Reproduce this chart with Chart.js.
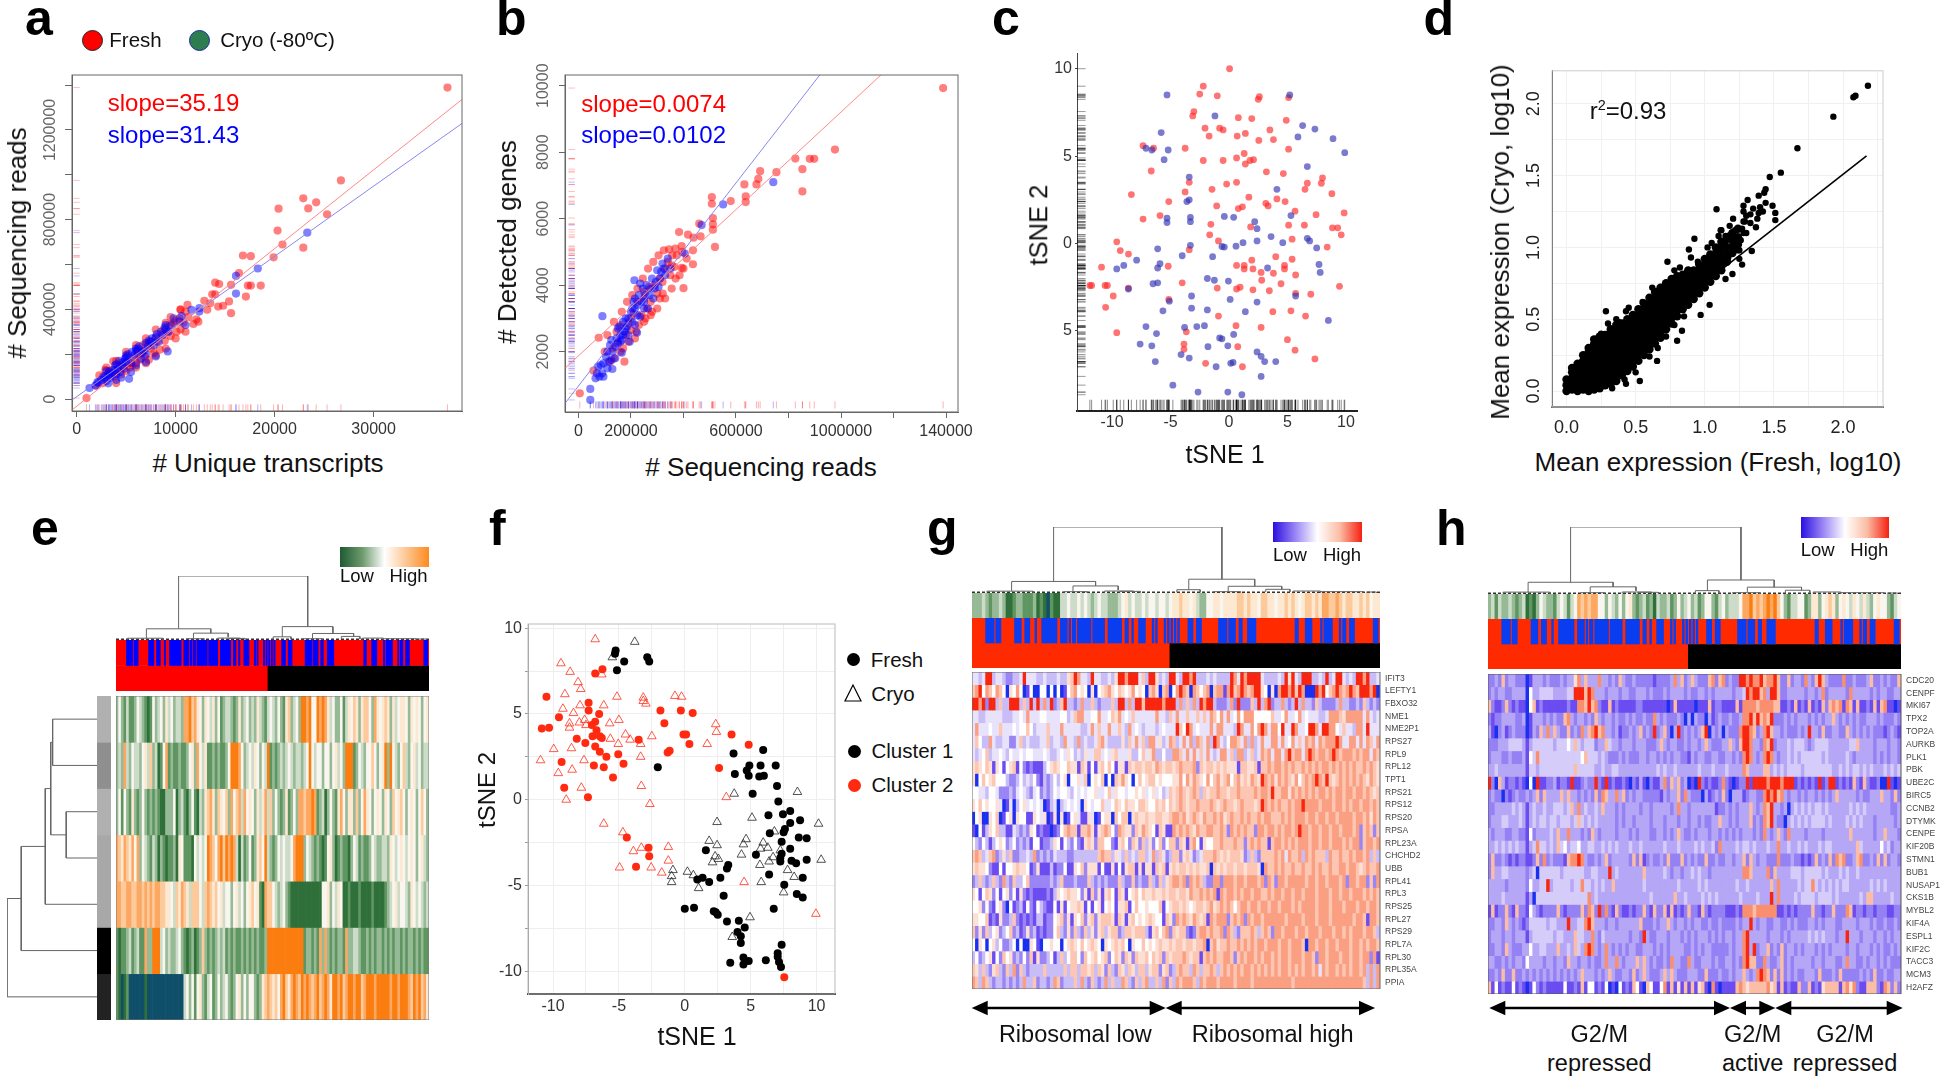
<!DOCTYPE html>
<html><head><meta charset="utf-8">
<script src="https://cdn.jsdelivr.net/npm/chart.js@4"></script>
<style>
html,body{margin:0;padding:0;background:#fff;width:1945px;height:1076px;overflow:hidden;position:relative;font-family:"Liberation Sans",Arial,sans-serif}
canvas{position:absolute;display:block}
.t{position:absolute;white-space:nowrap;line-height:1;color:#111}
.lg{position:absolute}
sup{font-size:60%;line-height:0}
</style></head><body>
<svg id="ov" width="1945" height="1076" style="position:absolute;left:0;top:0;pointer-events:none;z-index:3"></svg>
<script>
/* ---------- panel a ---------- */
const aXTicks=[0,10000,20000,30000], aYTicks=[0,200000,400000,600000,800000,1000000,1200000,1400000];
const aFreshX=[37460,26700,22900,24200,23400,20400,25300,20300,20800,22900,16800,17600,19900,16400,14000,14400,15600,17300,17600,18600,17100,13700,14000,12900,15400,13500,14300,14800,15600,11200,10500,13200,
2000,2600,3000,3300,3600,3800,4100,4200,4500,4700,5000,5200,5400,5600,5800,6000,6200,6400,6600,6900,7100,7300,7500,7800,8100,8400,8600,8900,9200,9500,9800,10100,10400,10500,10800,11000,11300,11800,12100,12300,2300,1000,3700,2900,4000,4400,5100,6100,6700,7400,8000,8800,9400,10000,
6000,7000,8000,9000,10000,11000,3000,4000,5000,6000,7000,8000,9000,9500,10500];
const aFreshY=[1389000,975000,895000,877000,850000,849000,824000,751000,689000,675000,640000,637000,632000,561000,519000,513000,509000,506000,506000,506000,457000,467000,467000,438000,435000,427000,412000,416000,383000,420000,398000,398000,
60000,70000,105000,120000,130000,100000,125000,150000,110000,145000,125000,165000,140000,150000,185000,160000,200000,175000,215000,190000,245000,175000,225000,205000,255000,220000,290000,260000,300000,280000,340000,300000,360000,310000,340000,390000,365000,335000,355000,345000,105000,4000,168000,130000,71000,160000,190000,215000,240000,255000,275000,310000,330000,350000,
140000,160000,195000,225000,270000,300000,140000,170000,210000,240000,270000,310000,340000,365000,400000];
const aCryoX=[23300,18300,16100,16100,11600,12400,1300,1900,2200,2500,2800,3000,3200,3400,3600,3800,4000,4200,4400,4600,4800,5000,5000,5300,5500,5800,6000,6300,6500,6800,7000,7200,7500,7600,7800,8100,8300,8700,9000,9300,9200,9600,10400,10600,11000,12400,2100,2700,3300,3500,3900,4300,4700,4900,5200,5600,6200,6600,7300,8500,8900,
3200,4000,4500,5500,6000,7000,8000,3000,4000,5000,6000,7000,8000,9000,9800];
const aCryoY=[742000,582000,549000,470000,398000,405000,49000,60000,72000,85000,95000,80000,110000,95000,115000,130000,110000,135000,120000,150000,135000,165000,185000,90000,160000,195000,215000,235000,180000,215000,200000,235000,255000,270000,240000,290000,255000,285000,310000,300000,212000,330000,345000,370000,330000,390000,75000,100000,125000,105000,150000,170000,165000,180000,200000,210000,225000,205000,260000,300000,320000,
70000,85000,95000,120000,150000,165000,190000,125000,155000,195000,225000,250000,275000,330000,360000];
const aFitFreshX=[-465,38930],aFitFreshY=[-49000,1336000];
const aFitCryoX=[-465,38930],aFitCryoY=[-4460,1229000];
/* ---------- panel b ---------- */
const bXTicks=[0,200000,400000,600000,800000,1000000,1200000,1400000], bYTicks=[2000,4000,6000,8000,10000];
const bFreshX=[1389000,977000,826000,881000,898000,853000,692000,754000,685000,632000,678000,853000,508000,508000,637000,637000,580000,512000,512000,512000,460000,383000,417000,438000,465000,520000,436000,393000,369000,345000,357000,412000,436000,393000,400000,321000,5000,
57000,77000,100000,120000,130000,145000,150000,160000,170000,175000,180000,190000,200000,200000,210000,215000,225000,230000,240000,250000,255000,250000,260000,270000,275000,280000,290000,300000,310000,310000,320000,330000,340000,350000,355000,365000,370000,375000,395000,
110000,135000,165000,185000,205000,225000,245000,265000,285000,305000,325000,135000,160000,190000,220000,250000,275000,300000,330000,355000,385000,400000];
const bFreshY=[9930,8080,7810,7800,7800,7490,7430,7400,7200,7030,7030,6820,6650,6450,6670,6500,6530,6020,5830,5670,5850,5600,5520,5430,5470,5150,5050,5180,5100,5080,4900,4800,4630,4520,3910,3750,750,
1430,2420,2000,1700,2100,2600,2300,2800,2100,1700,2500,2850,3000,2650,3150,2400,3500,2800,3100,3600,3000,3800,3300,3950,3500,3200,4000,3750,4200,3600,4100,4500,4700,4300,4600,4550,4200,4900,5000,
2500,2900,3200,3500,3700,3900,4200,4500,4700,4900,5050,1800,2000,2300,2600,2900,3100,3300,3600,3900,4300,4500];
const bCryoX=[742000,551000,469000,405000,45000,45000,65000,70000,75000,80000,85000,90000,91000,95000,105000,110000,115000,120000,125000,129000,130000,140000,145000,150000,155000,160000,165000,170000,175000,180000,185000,190000,200000,205000,210000,215000,223000,225000,230000,240000,245000,250000,255000,213000,235000,260000,270000,280000,290000,300000,310000,320000,330000,340000,
95000,110000,125000,140000,150000,165000,180000,195000,215000,235000,250000,265000,275000,285000,295000,305000,315000,325000,350000,215000,225000,190000,205000,170000,160000];
const bCryoY=[7100,6430,5810,4950,550,880,1200,1350,1550,1250,1600,1350,3070,1650,1850,2000,1700,2200,2350,1480,2000,2150,2400,2250,2750,2500,1970,2900,2600,3000,2750,2500,3200,2900,3500,3300,2570,3100,3700,3500,3900,3300,3700,4150,4050,4000,3700,4200,3900,4450,4200,4650,4300,4800,
1250,1500,1750,1800,2700,2350,2700,2300,2800,3050,3500,3300,3900,3600,4100,3950,4400,4500,4500,3600,3400,3000,3300,2500,2300];
const bFitFreshX=[-51400,1152000],bFitFreshY=[1500,10322];
const bFitCryoX=[-51400,919000],bFitCryoY=[448,10322];
/* ---------- panel c ---------- */
const cCryoX=[-5.3,5.2,-1.2,6.3,7.35,5.9,8.9,-5.8,-7.1,-6.6,-5.2,-5.55,9.9,6.7,-3.4,-3.4,-3.6,4.1,-5.3,-5.3,-3.3,-3.3,-.4,.4,5.3,2.2,2.4,3.6,6.7,6.9,2.4,1.2,.6,-.6,-.4,4.6,7.5,-3.3,-6.1,-4,-1.4,-7.9,-9,-9.6,-5.9,-6.1,3.3,7.7,7.8,-1.85,-1.25,-.05,-6.5,-6.1,-8.6,-3.2,5.7,.1,-5.1,2.4,-5.65,-3.2,-1.85,1.4,8.5,-7.1,-6.2,-3.8,-2.75,-2.1,.4,-.8,-7.6,-6.6,-1.8,-.1,-.6,-4.1,-3.4,2.4,2.75,3.05,4,-6.3,-1.1,.15,.35,2.75,-4.8,-2.65,-.1,1.1];
const cCryoY=[8.5,8.5,7.3,6.75,6.55,6.1,6,6.35,5.45,5.35,5.35,4.8,5.2,4.4,3.8,2.5,2.4,3.1,1.45,1.2,1.5,1.25,1.55,1.5,1.6,1.25,.85,.4,.3,.15,.15,.05,-.15,-.17,-.2,.05,-.25,-.1,-.3,-.7,-.75,-.95,-1.25,-1.45,-1.15,-1.4,-1.4,-1.2,-1.65,-2,-2.1,-2.15,-2.3,-2.25,-2.6,-3,-3,-3.2,-3.3,-3.35,-3.85,-3.7,-3.8,-3.9,-4.4,-4.75,-5.15,-4.8,-4.75,-4.7,-5.2,-5.4,-5.75,-5.85,-5.9,-5.85,-5.45,-6.35,-6.55,-6.2,-6.45,-6.75,-6.75,-6.75,-7.05,-6.85,-6.8,-7.6,-8.1,-8.5,-8.5,-8.65];
const cFreshX=[.05,-2.2,-2.5,-1,2.6,2.5,5.1,-3,-3.1,.8,1.95,4.9,-2.05,-.8,-.5,3.5,-1.7,.7,1.4,2.55,3.8,-7.35,-6.45,-3.75,5.1,1.3,.65,-.5,-2.2,1.8,2.1,1.4,-6.65,3.2,4.65,8,6.7,7.9,-3.4,-.2,.65,-1.45,6.5,-3.75,8.8,-8.35,1.7,4.1,4.8,-5.15,3.15,3.35,-1.05,1.15,.8,5.65,9.85,7.45,-5.9,-7.35,-1.55,5.1,6.45,1.85,8.85,9.3,-1.65,9.6,5.4,-.9,-9.6,-9.3,-8.6,8.4,-3.4,4,5.4,1.95,-10.9,-5.2,.65,1.3,1.3,2.05,4.75,4.75,2.75,3.8,5.7,2.8,-4,4.45,-11.9,-11.75,-10.6,-10.4,-8.6,-1,.65,.95,2.05,3.45,9.45,5.7,7,-9.9,-5.15,-10.55,3.75,5.3,6.55,-.9,.6,2.75,-9.6,-3.65,5,-3.85,-3.85,.75,5.65,7.35,-2,1.15];
const cFreshY=[10,9,8.55,8.45,8.4,8.25,8.35,7.55,7.3,7.2,7.15,7.05,6.6,6.6,6.5,6.5,6.15,6.15,6.3,5.9,5.95,5.6,5.45,5.45,5.4,5.15,4.9,4.75,4.75,4.75,4.8,4.55,4.15,4.1,4,3.75,3.45,3.45,3.5,3.4,3.5,3.1,3.1,2.95,2.85,2.8,2.65,2.55,2.4,2.4,2.3,2.15,2.15,2.1,2,1.85,1.75,1.65,1.6,1.4,1.1,1.05,1.05,.95,.9,.9,.5,.5,.25,.15,.1,-.4,-.6,-.2,-.35,-.75,-.9,-.95,-1.35,-1.3,-1.25,-1.25,-1.45,-1.45,-1.25,-1.45,-1.65,-1.7,-1.8,-2.1,-2.25,-2.3,-2.4,-2.4,-2.4,-2.4,-2.55,-2.55,-2.6,-2.5,-2.65,-2.7,-2.45,-2.85,-2.9,-3,-3.2,-3.65,-3.9,-3.85,-4.15,-4.15,-4.7,-4.8,-5.1,-5.05,-5.5,-5.75,-6.05,-5.9,-6.1,-6.6,-6.85,-7.05];
/* ---------- panel d ---------- */
const dFreshCols=[0,.04,.08,.12,.16,.2,.24,.28,.32,.36,.4,.44,.48,.52,.56,.6,.64,.68,.72,.76,.8,.84,.88,.92,.96,1,1.04,1.08,1.12,1.16,1.2,1.24];
const dCryoCols=[[0,.04,.08],[.01,.05,.09,.13,.16],[0,.03,.07,.11,.15,.19],[.01,.05,.09,.13,.17,.21,.25],[0,.03,.07,.11,.15,.19,.23,.27,.3],[.01,.05,.09,.13,.17,.21,.25,.29,.33,.36],[.02,.06,.1,.14,.18,.22,.26,.3,.34,.38],[.04,.08,.12,.16,.2,.24,.28,.32,.36,.39],[.05,.09,.13,.17,.21,.25,.29,.33,.37,.41,.43],[.07,.11,.15,.19,.23,.27,.31,.35,.39,.43,.46],[.11,.15,.19,.23,.27,.31,.35,.39,.43,.47],[.14,.18,.22,.26,.3,.34,.38,.42,.46,.5],[.17,.21,.25,.29,.33,.37,.41,.45,.49,.53],[.21,.25,.29,.33,.37,.41,.45,.49,.53,.57],[.25,.29,.33,.37,.41,.45,.49,.53,.57,.61],[.29,.33,.37,.41,.45,.49,.53,.57,.61,.65],[.33,.37,.41,.45,.49,.53,.57,.61,.65,.69],[.37,.41,.45,.49,.53,.57,.61,.65,.69,.72],[.43,.47,.51,.55,.59,.63,.67,.71,.75],[.47,.51,.55,.59,.63,.67,.71,.75,.78],[.52,.56,.6,.64,.68,.72,.76,.8],[.57,.61,.65,.69,.73,.77,.81],[.6,.64,.68,.72,.76,.8,.84],[.64,.68,.72,.76,.8,.84],[.68,.72,.76,.8,.84,.88],[.72,.76,.8,.84,.88,.92],[.76,.8,.84,.88,.92,.95],[.8,.84,.88,.92,.96,1],[.84,.88,.92,.96,1,1.04],[.9,.95,1,1.06],[.96,1,1.05,1.1],[1.02,1.07,1.13]];
const dOutlierX=[2.18,2.09,2.075,1.93,1.67,1.55,1.47,1.44,1.43,1.39,1.31,1.28,1.28,1.33,1.4,1.39,1.44,1.49,1.51,1.51,1.085,1.205,1.29,1.33,1.37,1.115,1.27,1.28,1.18,1.205,.925,.885,1.08,1.125,1.34,1.27,1.2,.73,1.035,.97,.835,.8,.655,.53,.43,.285,.36,.43,.25,1.15,1.22,1.25,1.1,
1.02,1.05,1.1,1.12,1.15,1.17,1.18,1.2,1.22,1.24,1.26,1.28,1.3,1.3,1.35,1.38,1.42,1.1,1,.95,.9,.82,.78,.62,.55,.45,.38,.3,.66,.72,.78,.85,.6,.5,.42,.33,1.15,1.25];
const dOutlierY=[2.125,2.055,2.045,1.91,1.69,1.52,1.49,1.405,1.38,1.36,1.33,1.29,1.25,1.23,1.28,1.24,1.31,1.29,1.24,1.19,1.265,1.2,1.18,1.17,1.14,1.12,1.13,1.1,1.085,1.07,1.06,.985,.995,1,.975,.88,.815,.9,.6,.53,.42,.35,.21,.07,.05,.555,.5,.555,.4,1.03,1.02,.98,1.08,
1,1.03,.98,1.12,1.08,.93,1.15,1.02,1.12,.98,1.05,1.18,1.1,1.22,1.27,1.2,1.25,.88,.72,.9,.93,.86,.84,.72,.62,.58,.48,.47,.3,.38,.46,.52,.24,.13,.08,.02,.78,.92];
const dFitX=[0,2.17],dFitY=[0,1.637];
/* ---------- panel f ---------- */
const fC2CryoX=[-6.8,-9.4,-8.7,-6.3,-8.1,-7.9,-9.1,-5.15,-3.15,-3.15,-2.95,-.75,-.25,-9.25,-7.95,-6.15,-8.45,-7.6,-8.75,-8.75,-8,-7.5,-5.7,-5,2.35,2.4,-4.5,-2.5,-5.65,-4.15,-5.05,-3.35,1.7,-9.95,-8.6,-3.35,-10.95,-7.65,-8.55,-9.6,-7.85,-3.3,-9,3.15,-2.65,-6.15,-4.7,-3.9,-3.3,-1.25,-1.25,-4.95,-2.55,-1.75,4.5,9.95];
const fC2CryoY=[9.35,7.95,7.45,7.3,6.85,6.45,6.15,6,5.95,5.75,5.6,6.05,6,5.3,5.5,5.5,5.05,4.65,4.45,4.2,4.5,4.35,4.45,4.65,4.4,3.95,3.8,3.7,3.55,3.5,3.25,3.25,3.25,2.95,3,2.5,2.3,2.3,1.75,1.55,.7,.8,0,.15,-.25,-1.4,-1.9,-3,-2.8,-2.75,-3.55,-3.95,-3.95,-4.25,-4.8,-6.65];
const fC2FreshX=[-10.5,-7.3,-7.3,-6.5,-9.55,-10.85,-10.3,-6.8,-7.05,-6.8,-6.25,-1.85,-.3,.6,-1.55,-.1,.1,3.55,-8.2,-7,-6.7,-6.45,-6.3,-3.5,-7.55,-6.8,-6.45,-5.95,-5.05,.35,-1.15,-1.3,4.85,-9.35,-6.9,-6.15,-4.65,2.6,-5.45,-9.15,-7.35,-4.4,-2.75,-2.7,-3.7,7.55];
const fC2FreshY=[6,5.65,5.2,5,4.8,4.15,4.2,4.55,4.35,7.35,7.6,5.2,5.2,5.05,4.45,3.8,3.8,3.8,3.55,3.7,4.05,3.7,3.6,3.5,3.3,3.1,2.8,2.5,2.65,3.25,2.85,2.75,3.2,2.2,2,1.9,2.1,1.85,1.3,.7,.15,-2.2,-2.8,-3.3,-3.9,-10.35];
const fC1CryoX=[-3.8,-5.5,8.55,3.75,5.1,10.15,2.45,6.8,1.85,2.45,4.65,4.45,5.95,5.75,6.3,4.3,2.3,2.55,2.1,6.4,6.7,5.7,10.35,7.8,8.3,-.9,-1,.2,.65,-1,1.05,5.8,7.5,4.95,3.6,7.25];
const fC1CryoY=[9.2,8.3,.45,.35,-1.05,-1.4,-1.3,-1.85,-2.4,-2.65,-2.3,-2.6,-2.5,-2.85,-2.8,-3.2,-3.3,-3.45,-3.65,-3.6,-3.35,-3.8,-3.5,-4.1,-4.5,-4.1,-4.45,-4.2,-4.4,-4.8,-5.15,-4.8,-5.4,-6.85,-8,-2.95];
const fC1FreshX=[-5.25,-5.3,-4.6,-2.85,-2.7,-5.15,5.95,3.7,-2.05,4.9,5.75,6.9,4.7,3.8,4.85,5.65,6,7,5.15,7.1,6.35,7.45,8,8.75,8,7.6,6.45,7.5,8.65,9.25,7.35,1.6,8,7.35,5.4,7.25,7.25,8.1,8.45,9.25,3.3,3.2,6.4,2.7,.95,1.35,1.85,8.95,7.55,2.95,8.5,8.95,0,.7,2.2,2.35,2.5,6.75,3.2,4.1,4.55,4,4.25,4.25,7.35,7.05,7.05,3.45,4.45,4.45,4.85,6.15,7.15,7.3];
const fC1FreshY=[8.7,8.5,8.05,8.3,8.05,7.55,2.9,2.7,1.9,2,2,2,1.7,1.5,1.4,1.35,1.4,.8,.35,-.1,-.9,-.85,-.65,-1.2,-1.35,-1.7,-1.95,-1.9,-2.2,-2.25,-2.45,-2.95,-2.85,-3.15,-3.2,-3.4,-3.6,-3.55,-3.7,-3.5,-3.8,-4,-4.35,-4.55,-4.65,-4.55,-4.8,-4.55,-4.95,-5.6,-5.5,-5.7,-6.35,-6.3,-6.5,-6.55,-6.7,-6.35,-7.1,-7.05,-7.45,-7.7,-7.95,-8.35,-8.45,-8.95,-9.15,-9.5,-9.2,-9.6,-9.4,-9.35,-9.45,-9.75];
/* ---------- shared cell annotation and tree (panels e, g, h) ---------- */
const cellCount=240, clusterSplit=116;
const cryoRuns=[[8,13],[14,17],[25,29],[31,34],[37,38],[41,50],[52,56],[57,58],[59,61],[62,70],[71,78],[80,88],[90,92],[94,95],[98,102],[106,107],[108,109],[113,114],[115,116],[117,118],[119,120],[121,122],[127,130],[132,135],[145,150],[151,155],[157,159],[162,167],[190,192],[196,200],[205,206],[207,212],[216,217],[218,220],[222,225],[236,239]];
/* left, right, merge height, left child height, right child height */
const cellTree=[[48,147,100,17.5,20.9],[23.3,72.7,17.5,2.8,10.7],[59.4,86,10.7,2.8,4.5],[127.5,166.3,20.9,5,10.2],[120.5,134.2,5,1,1],[150.7,182.2,10.2,2.8,5.6],[172.8,187,5.6,1.5,1.5],[8.8,36,2.8,.8,.8],[54,67.6,2,.8,.8],[78,95,3,.8,.8],[87,99,2.5,.8,.8],[142,158,2,.8,.8],[189,205,3,.8,.8],[205,230,2,.8,.8],[232,238,1.5,.8,.8]];
/* merge height, upper row, lower row, upper child height, lower child height */
const signatureTree=[[49.3,.5,1.5,0,0],[34.2,2.5,3.5,0,0],[51.4,1,3,49.3,34.2],[57.5,2,4.5,51.4,0],[84.2,3.25,5.5,57.5,0],[100,4.375,6.5,84.2,0]];
/* ---------- panel e ---------- */
const eSignatureShade=["2","1","2","3","3","6","5"];
const eRows=[
"3532422354 3212534536 4534438897 8653654635 2344323634 5343643245 4353267345 3998955989 8645335246 5763677538 6567636456 6536565356",
"3438435443 5647341258 2322322356 3854622323 2235999853 4546535492 3234345434 4345954553 5535645399 9235435575 3569395435 7435645344",
"3525326323 5323232113 3351342135 2143678637 6573857848 5653646847 3532362353 8878898234 1353268536 6373586535 6536537567 5356535753",
"8768768583 5432431321 2231652221 5454598758 9798984142 3523675943 2354544589 9935432321 2563123221 3542322354 3344365456 5456535643",
"8877887788 7878788776 6547687647 7754787675 6455356453 5675621877 5434532111 1111111115 5635465112 1112111121 1112345645 5436545434",
"2122342342 2833999453 4334532123 1237323234 3423232232 3232322399 9999999999 9923323283 8323233283 3443223232 3323232332 3233232322",
"2101200000 0100000000 0000004535 2563245235 3453235635 3553236787 6758976898 7989878978 9869989789 9899789998 9999989989 9987989786"];
/* ---------- panel g ---------- */
const gGenes=["IFIT3","LEFTY1","FBXO32","NME1","NME2P1","RPS27","RPL9","RPL12","TPT1","RPS21","RPS12","RPS20","RPSA","RPL23A","CHCHD2","UBB","RPL41","RPL3","RPS25","RPL27","RPS29","RPL7A","RPL30","RPL35A","PPIA"];
const gMeanRow=["3334323343 1123322231 2102114454 4545434544 3334564544 5455455456 6766564335 5665666677 6766577665 6676765677 6768877876 7766767566"];
const gRows=[
"4434993443 2233494443 3433343367 9844394433 4369989994 7399634399 4399893334 3433339849 8999943333 4396943999 3343934994 3439989334",
"7895875875 0658501500 5505050157 8565060567 8657656856 5078607805 8987087578 0788189789 8789965060 8998979800 0989578987 8987999890",
"9989299373 3999373939 3839237933 2383373233 3739938399 7999998999 3837383989 9322238292 2273938923 3832393833 2732222383 3223273232",
"4433444443 3344548444 5544445534 7884455844 5768454744 4444844374 8447447474 8758484585 8885555574 4584458454 4433488876 8888848434",
"4844454474 4454557534 4474448444 4433484744 8447438454 3444345444 9759845444 8488444398 4485898488 5944984459 9849988547 4438849444",
"4753384334 4224734333 4473443844 3834334784 3333637484 7388463487 3484838748 3984358874 8383484488 4845847487 8487888984 4884848748",
"4345734454 3544545544 4543345465 3436447745 4674446335 7468335338 8748484748 4348847388 3473487848 8489788489 8788789878 8878788487",
"6765761651 5671521211 1356765576 6176151675 7516617677 6776876776 7877782767 7676766617 7667177878 8787877878 7878878787 8787787876",
"6057567555 3223534352 1323535605 5647056570 5076865057 5677565556 6858687658 5786785786 7687698786 8787685787 8987976787 8787876876",
"5544355422 2324543245 2323545543 5454556445 7465545565 6456453476 7876787376 7787767787 7778788797 7886878787 8788787887 8878878767",
"6575655640 1403564545 4013403454 5406545574 4576576657 7655767576 7876778777 8767877678 7776798787 8778788988 8878887887 8788788787",
"0560065701 5606551165 4601606015 6411640156 6075770676 6766776678 8786787687 7878678778 7877878877 7878788878 8788788788 8878878687",
"1051365733 1143232651 2110125787 7177861678 7528766276 8765176118 7878768778 8778728787 8772887887 8788789887 8878878878 8878278727",
"5325313565 2352323155 1223651532 5216762775 5216752762 7362572577 2761785165 5778777877 2787877178 8787878887 8878878887 8788278878",
"7873478236 3722334382 3232433322 3333333787 7364373437 7348374237 7267423477 7876767776 2373277778 7848778387 8777387787 7878878373",
"6766521151 5567665126 1113122511 6572666151 1615167716 1661767167 6776767667 0767677677 6777608778 7877877877 8787787788 7887678778",
"2373237328 3273357222 2223237222 3222732323 2227322723 2273273678 8782878732 2882888788 7888782872 8878888878 8788788878 2887882728",
"6515762515 6251621211 1121365676 6526172616 7517615675 7667667677 6776877878 7818788787 8878877878 8788788788 8788878878 8788878787",
"5562521562 0512315215 3211516156 6761515615 6516671575 5655571567 7676567767 8678787578 8788788788 7888787888 8788878887 8887887887",
"6655712162 2372121213 3122567261 6572672677 7617616756 5676551762 8787687671 8788827878 2878878888 8878888788 8788878888 8878871887",
"7262735623 5723126231 2122573262 7327362673 6772377677 7316757827 6772127887 8778287327 7787378728 8788878878 8878887887 8788878873",
"5065056352 2350500651 0556550567 6575676506 5676750655 7565676676 7767767780 7867787787 8787887888 7887888708 8788788788 8788787887",
"3523561527 5623252716 2235137357 7527567567 2576276276 6757672767 7787677178 7877887278 7887878878 7887888788 7288788878 8788788281",
"7637326732 7382732333 3733333737 7377673762 7327637637 7367726723 7877387377 8737878787 8878787878 7887878788 7848788787 8788783838",
"8738732332 3232383372 3323872333 7383273238 3733873273 7833738273 8788873878 8878888788 8878888888 8888788888 8888888888 8888873838"];
/* ---------- panel h ---------- */
const hGenes=["CDC20","CENPF","MKI67","TPX2","TOP2A","AURKB","PLK1","PBK","UBE2C","BIRC5","CCNB2","DTYMK","CENPE","KIF20B","STMN1","BUB1","NUSAP1","CKS1B","MYBL2","KIF4A","ESPL1","KIF2C","TACC3","MCM3","H2AFZ"];
const hMeanRow=["3424334323 4121354332 4542458787 8855354353 5632342314 3342353453 4235532453 4445889787 8989753244 5523663567 6356546546 4356553245"];
const hRows=[
"2232723322 2013332322 2323368373 3383323273 2232222212 2223837237 3222782782 3229989889 7889722723 3283279732 2228223222 3722323227",
"2323322333 3053344443 3334499979 8333233323 3223332322 2323333232 2332323333 3233498997 8399722333 3323323823 3333283333 3232332233",
"7211272121 1057121111 1112118879 7821171211 1112211111 1101711111 0111712211 1171888878 8887711217 1217121727 8781871711 2171781101",
"2122333322 3013332323 2278323323 2732332322 3232232283 2322232030 3220312322 3223889797 8792223232 3332323233 7323232322 3332322232",
"3102312322 2013273837 3227232837 8978332312 2323723292 3720392323 2379032303 2228998723 8973323222 3239332722 3322732323 2322212321",
"2223334444 3134444443 4445474344 4233743323 3323332223 7323322323 3237322233 7327998332 8792333434 4432344443 3333344733 3323332332",
"2333223222 3154844444 4444444574 4434322232 3222332332 3232332213 2332233223 3232898323 8983233434 3444444343 3333432333 3323232332",
"3343333333 3144344444 4444474444 4334334433 3333333334 3433433333 3433343334 3333873333 7734343444 4344444444 3343434434 3433343434",
"9207312212 1050911223 1221911232 2921912112 1021310211 3827372301 0921211282 1012291999 9899989991 2121219129 9121217217 2112009101",
"2322021232 2323727333 3737332323 2728733837 2323322222 1323372832 2203123272 0333123322 8989783233 2323323232 3733333232 2333733272",
"2233333434 3134334334 4434738343 3437333232 3333233233 3332383323 3333331223 2323337323 8793323034 3434344343 3333343434 3333333223",
"2333443334 3134344344 3444347434 3433333232 3323333233 3233323323 3232233733 2323337232 8793220343 4343444434 3333434343 3323333323",
"3233322332 2152333343 7338333232 7323333233 3232333223 3232373223 2333233232 3232333232 8323732833 3323333233 3333373333 3323373332",
"3343434343 3134844343 7453445334 4334343433 3433433333 3433343333 4343342833 3343443433 3433833433 4343334344 3333333743 3333534233",
"2722321212 2112728232 2217889832 2323723333 3272712322 3272227232 3227223223 3233727323 3222822232 2121272327 2878223782 2327272332",
"2733443333 3234044444 4344444433 4433393433 3333373333 3432332334 3433233333 3333887333 3827333344 4344444343 3343433433 3333333333",
"3333323333 3253344934 4444344844 3434337333 3333343333 3333343333 3434333333 3343343333 3373833333 4344843434 3434433333 3434343333",
"3333433333 3130444444 4444444448 3433333333 3333333433 3333733433 3343434333 3334333343 3393833334 3444434444 3433333343 7733333433",
"1712272172 2153212222 7212222728 7292821721 1212272172 2717121272 2172122221 1121888788 8888112121 2222722122 7222871221 2212221122",
"2233273232 1244444344 3339334489 7333233233 3333722232 3373233232 3322322322 2232339323 3223322323 2223323233 3223333233 3232232232",
"2333233233 3134444443 4433374433 8324333333 3233293223 3323332323 2333232323 3233893333 3233323233 3334343433 3233933323 3323323233",
"2233273222 3353344333 7334374389 8323832323 2332233323 2323333223 2323322222 3233893923 3723272332 3233323232 3333233233 3232322323",
"3322323233 2533332332 3327332332 3223833832 3337373232 2328332283 2233323223 3232897722 8322372323 3333233233 3223833223 2332323222",
"2232722722 3232323232 3232323733 3232373223 3272373222 3737322233 3227222322 3233732389 8727272323 2233327222 3272222232 3272232233",
"7151211512 1015212111 1151121715 5121501051 2175107511 5817161717 1671081011 1178767777 7867171211 7227121677 7717868211 7772187272"];

/* ---------- helpers ---------- */
const FONT='"Liberation Sans",Arial,sans-serif';
const zip=(xs,ys)=>xs.map((x,i)=>({x,y:ys[i]}));
const blueRed=['#1a30f0','#6a4cf0','#9a85f5','#c9bdf8','#e8e3fb','#ffffff','#fde0d5','#fcc6b2','#fa9f82','#f8260f'];
const purpleRed=['#1a30f0','#6a4cf0','#9481f4','#b5a6f6','#d6ccfa','#ffffff','#fde0d5','#fbbda5','#f98f6f','#f8260f'];
const greenOrange=['#0f4f6a','#2f6f3a','#5e9560','#97ba96','#cddcc9','#f8f6ee','#fde8d2','#fdca9c','#fca862','#fb7d10'];
const shades=['#000000','#8f8f8f','#b0b0b0','#a8a8a8','#444444','#222222','#000000'];
function canvasAt(l,t,w,h){const c=document.createElement('canvas');c.width=w;c.height=h;c.style.left=l+'px';c.style.top=t+'px';c.style.width=w+'px';c.style.height=h+'px';document.body.appendChild(c);return c;}
const frame={id:'frame',afterDatasetsDraw(ch,a,o){if(!o.color)return;const {left,top,width,height}=ch.chartArea,x=ch.ctx;x.save();x.strokeStyle=o.color;x.lineWidth=o.width||1;x.strokeRect(left,top,width,height);x.restore();}};
function linAxis(o){const ax={type:'linear',position:o.position,min:o.min,max:o.max,
  afterFit(s){if(s.isHorizontal())s.height=o.size;else s.width=o.size;},
  border:{display:true,color:o.bc||'#555',width:o.bw||1},
  grid:{display:true,drawOnChartArea:!!o.grid,color:o.grid||'transparent',tickLength:o.tl,drawTicks:o.tl>0,tickColor:o.tc||o.bc||'#555',lineWidth:1},
  ticks:{stepSize:o.step,includeBounds:false,autoSkip:false,minRotation:o.rot||0,maxRotation:o.rot||0,crossAlign:o.rot?'center':'near',padding:o.pad,color:o.color||'#222',font:{family:FONT,size:o.fs||16},callback:o.fmt}};
  if(o.vals)ax.afterBuildTicks=s=>{s.ticks=o.vals.map(v=>({value:v}));};
  return ax;}
function scatterChart(box,pad,xa,ya,datasets,frameOpt){
  const w=box[2]-box[0]+pad[0]+pad[2],h=box[3]-box[1]+pad[1]+pad[3];
  xa.size=pad[3];ya.size=pad[0];
  new Chart(canvasAt(box[0]-pad[0],box[1]-pad[1],w,h),{type:'scatter',data:{datasets},plugins:[frame],
    options:{responsive:false,animation:false,events:[],layout:{padding:{top:pad[1],right:pad[2],left:0,bottom:0}},
      plugins:{legend:{display:false},tooltip:{enabled:false},frame:frameOpt||{}},
      scales:{x:linAxis(xa),y:linAxis(ya)}}});
}
const dots=(xs,ys,color,r)=>({data:zip(xs,ys),pointRadius:r,pointBackgroundColor:color,pointBorderWidth:0,showLine:false});
const outline=(xs,ys,color,r,style)=>({data:zip(xs,ys),pointStyle:style,pointRadius:r,pointBackgroundColor:'transparent',pointBorderColor:color,pointBorderWidth:1,showLine:false});
const fitLine=(xs,ys,color,w)=>({data:zip(xs,ys),showLine:true,borderColor:color,borderWidth:w||1,pointRadius:0});
const rugX=(xs,at,color,r,w)=>({data:xs.map(x=>({x,y:at})),pointStyle:'line',pointRotation:90,pointRadius:r,pointBorderColor:color,pointBorderWidth:w||1,showLine:false});
const rugY=(ys,at,color,r,w)=>({data:ys.map(y=>({x:at,y})),pointStyle:'line',pointRotation:0,pointRadius:r,pointBorderColor:color,pointBorderWidth:w||1,showLine:false});
function heat(box,rows,palette,o={}){
  const clean=rows.map(r=>r.replace(/\s/g,''));const n=Math.max(...clean.map(r=>r.length));
  const labels=Array.from({length:n},(_,i)=>i);const nr=clean.length;
  const datasets=clean.map((r,ri)=>({data:[...r].map(()=>[ri,ri+1]),backgroundColor:[...r].map(c=>palette[+c]),borderWidth:0,barPercentage:1,categoryPercentage:1,grouped:false}));
  const pr=o.genes?70:0;
  const y={type:'linear',position:'right',reverse:true,min:0,max:nr,display:!!o.genes,border:{display:false},grid:{display:false,drawTicks:false}};
  if(o.genes){y.afterFit=s=>{s.width=pr;s.paddingTop=0;s.paddingBottom=0;};y.afterBuildTicks=s=>{s.ticks=o.genes.map((g,i)=>({value:i+.5}))};
    y.ticks={autoSkip:false,padding:5,color:'#444',font:{family:FONT,size:8.5},callback:v=>o.genes[Math.round(v-.5)]};}
  new Chart(canvasAt(box[0],box[1],box[2]-box[0]+pr,box[3]-box[1]),{type:'bar',data:{labels,datasets},plugins:[frame],
    options:{responsive:false,animation:false,events:[],layout:{padding:0},
      plugins:{legend:{display:false},tooltip:{enabled:false},frame:{color:o.border||null}},
      scales:{x:{display:false,offset:true,grid:{display:false}},y}}});
}
function annotation(box,red,blue){
  const datasets=[];
  cryoRuns.forEach(r=>datasets.push({data:[r,null],backgroundColor:blue}));
  datasets.push({data:[[0,cellCount],null],backgroundColor:red});
  datasets.push({data:[null,[0,clusterSplit]],backgroundColor:red});
  datasets.push({data:[null,[clusterSplit,cellCount]],backgroundColor:'#000'});
  datasets.forEach(d=>{d.grouped=false;d.barPercentage=1;d.categoryPercentage=1;d.borderWidth=0;});
  new Chart(canvasAt(box[0],box[1],box[2]-box[0],box[3]-box[1]),{type:'bar',data:{labels:['Storage','Cluster'],datasets},
    options:{indexAxis:'y',responsive:false,animation:false,events:[],layout:{padding:0},plugins:{legend:{display:false},tooltip:{enabled:false}},
      scales:{x:{type:'linear',display:false,min:0,max:cellCount},y:{type:'category',display:false,grid:{display:false}}}}});
}
function lineChart(box,pts,xr,yr,rev,extra){
  const ds=[{data:pts,showLine:true,borderColor:'#666',borderWidth:1,pointRadius:0,clip:false,spanGaps:false}].concat(extra||[]);
  new Chart(canvasAt(box[0],box[1],box[2]-box[0],box[3]-box[1]),{type:'scatter',data:{datasets:ds},
    options:{responsive:false,animation:false,events:[],layout:{padding:0},plugins:{legend:{display:false},tooltip:{enabled:false}},
      scales:{x:{type:'linear',display:false,min:xr[0],max:xr[1],reverse:!!rev.x},y:{type:'linear',display:false,min:yr[0],max:yr[1],reverse:!!rev.y}}}});
}
function topTree(box){
  const pts=[];cellTree.forEach(b=>{pts.push({x:b[0],y:b[3]},{x:b[0],y:b[2]},{x:b[1],y:b[2]},{x:b[1],y:b[4]},{x:null,y:null});});
  lineChart(box,pts,[0,cellCount],[0,100],{},[{data:[{x:0,y:.8},{x:cellCount,y:.8}],showLine:true,borderColor:'#333',borderWidth:2,borderDash:[3,2],pointRadius:0}]);
}
function T(html,cx,cy,size,o={}){const e=document.createElement('div');e.className='t';e.innerHTML=html;
  e.style.cssText+=`left:${cx}px;top:${cy}px;font-size:${size}px;font-weight:${o.w||'normal'};color:${o.c||'#111'};transform:translate(-50%,-50%)${o.rot?' rotate(-90deg)':''};`;document.body.appendChild(e);}
function panelLetter(s,left,base){const e=document.createElement('div');e.className='t';e.textContent=s;e.style.cssText+=`left:${left-3}px;top:${base-42.3}px;font-size:50px;font-weight:bold;color:#000;`;document.body.appendChild(e);}
function disc(cx,cy,d,bg,bd){const e=document.createElement('div');e.className='lg';e.style.cssText=`left:${cx-d/2}px;top:${cy-d/2}px;width:${d}px;height:${d}px;border-radius:50%;background:${bg};box-sizing:border-box;${bd?'border:1.5px solid '+bd:''}`;document.body.appendChild(e);}
function grad(l,t,w,h,css){const e=document.createElement('div');e.className='lg';e.style.cssText=`left:${l}px;top:${t}px;width:${w}px;height:${h}px;background:linear-gradient(90deg,${css});`;document.body.appendChild(e);}
function arrow(x1,x2,y){const ov=document.getElementById('ov');const L=16,H=7.3;
  ov.insertAdjacentHTML('beforeend',`<line x1="${x1+8}" y1="${y}" x2="${x2-8}" y2="${y}" stroke="#000" stroke-width="2.4"/><polygon points="${x1},${y} ${x1+L},${y-H} ${x1+L},${y+H}" fill="#000"/><polygon points="${x2},${y} ${x2-L},${y-H} ${x2-L},${y+H}" fill="#000"/>`);}

const A_RED='rgba(255,0,0,.5)',A_BLUE='rgba(0,0,255,.5)';
const bigAxis=v=>String(v);
/* panel a */
scatterChart([72,75,462,411],[72,25,30,30],
 {min:-465,max:38930,vals:aXTicks,tl:6,pad:3,fmt:bigAxis,bc:'#666',color:'#333'},
 {min:-53500,max:1445000,vals:aYTicks,tl:7,rot:90,pad:-17,fmt:v=>(v%400000===0?String(v):''),bc:'#666',color:'#666'},
 [fitLine(aFitFreshX,aFitFreshY,'#f88'),fitLine(aFitCryoX,aFitCryoY,'#88e'),
  dots(aCryoX,aCryoY,A_BLUE,4.1),dots(aFreshX,aFreshY,A_RED,4.1),
  rugX(aCryoX,-53500+14000,'rgba(0,0,255,.3)',3.5),rugX(aFreshX,-53500+14000,'rgba(255,0,0,.3)',3.5),
  rugY(aCryoY,0,'rgba(0,0,255,.25)',3.2),rugY(aFreshY,0,'rgba(255,0,0,.25)',3.2)],{color:'#666'});
/* panel b */
scatterChart([565,75,958,412],[72,25,30,30],
 {min:-51400,max:1445700,vals:bXTicks,tl:6,pad:4,fmt:v=>v===1400000?'140000':(v===400000||v===800000||v===1200000?'':String(v)),bc:'#666',color:'#333'},
 {min:187,max:10322,vals:bYTicks,tl:6,rot:90,pad:-7,fmt:bigAxis,bc:'#666',color:'#666'},
 [fitLine(bFitFreshX,bFitFreshY,'#f88'),fitLine(bFitCryoX,bFitCryoY,'#88e'),
  dots(bCryoX,bCryoY,A_BLUE,4.1),dots(bFreshX,bFreshY,A_RED,4.1),
  rugX(bCryoX,400,'rgba(0,0,255,.3)',3.5),rugX(bFreshX,400,'rgba(255,0,0,.3)',3.5),
  rugY(bCryoY,-26000,'rgba(0,0,255,.25)',3.2),rugY(bFreshY,-26000,'rgba(255,0,0,.25)',3.2)],{color:'#666'});
/* panel c */
scatterChart([1077,53,1357,411],[40,15,20,30],
 {min:-13,max:10.95,step:5,tl:0,pad:2,fmt:v=>String(v),bc:'#222',bw:2,color:'#333'},
 {min:-9.58,max:10.9,step:5,tl:2,pad:3,fmt:v=>String(Math.abs(v)),bc:'#444',color:'#333'},
 [dots(cCryoX,cCryoY,'rgba(50,50,180,.65)',3.4),dots(cFreshX,cFreshY,'rgba(255,40,40,.65)',3.4),
  rugX(cCryoX,-9.25,'rgba(0,0,0,.45)',5.5),rugX(cFreshX,-9.25,'rgba(0,0,0,.45)',5.5),
  rugY(cCryoY,-12.65,'rgba(0,0,0,.4)',4.5),rugY(cFreshY,-12.65,'rgba(0,0,0,.4)',4.5)]);
/* panel d */
const dX=[],dY=[];dFreshCols.forEach((x,i)=>dCryoCols[i].forEach(y=>{dX.push(x);dY.push(y);}));
scatterChart([1552,70,1883,407],[50,15,30,34],
 {min:-.105,max:2.289,step:.25,tl:0,pad:10,fs:18,grid:'#f0f0f0',fmt:v=>v%0.5===0?v.toFixed(1):'',bc:'#555',bw:2,color:'#222'},
 {min:-.111,max:2.229,step:.25,tl:0,rot:90,pad:5,fs:18,grid:'#f0f0f0',fmt:v=>v%0.5===0?v.toFixed(1):'',bc:'#333',color:'#222'},
 [fitLine(dFitX,dFitY,'#000',1.6),dots(dOutlierX,dOutlierY,'#000',3.2),dots(dX,dY,'#000',4.2)],{color:'#ccc'});
/* panel f */
scatterChart([528,624,835,994],[40,15,20,30],
 {min:-11.9,max:11.4,step:2.5,tl:0,pad:3,grid:'#eee',fmt:v=>v%5===0?String(v):'',bc:'#222',bw:2,color:'#333'},
 {min:-11.32,max:10.24,step:2.5,tl:3,pad:3,grid:'#eee',fmt:v=>v%5===0?String(v):'',bc:'#999',tc:'#999',color:'#333'},
 [dots(fC1FreshX,fC1FreshY,'#000',4),dots(fC2FreshX,fC2FreshY,'#ff2a10',4),
  outline(fC1CryoX,fC1CryoY,'rgba(40,40,40,.8)',5,'triangle'),outline(fC2CryoX,fC2CryoY,'rgba(255,50,30,.8)',5,'triangle')],{color:'#bbb'});
/* panel e */
const sideTreePts=[];signatureTree.forEach(b=>sideTreePts.push({x:b[3],y:b[1]},{x:b[0],y:b[1]},{x:b[0],y:b[2]},{x:b[4],y:b[2]},{x:null,y:null}));
topTree([116,576,429,640]);
annotation([116,640,429,691],'#ff0000','#0000ff');
heat([116,696,429,1020],eRows,greenOrange,{border:'#777'});
heat([97,696,111,1020],eSignatureShade,shades);
lineChart([7,696,97,1020],sideTreePts,[0,100],[0,7],{x:true,y:true});
/* panel g */
topTree([972,527,1380,593]);
heat([972,593,1380,618],gMeanRow,greenOrange);
annotation([972,618,1380,668],'#ff2a00','#0a3cf0');
heat([972,672,1380,989],gRows,blueRed,{genes:gGenes,border:'#666'});
/* panel h */
topTree([1488,527,1901,594]);
heat([1488,594,1901,619],hMeanRow,greenOrange);
annotation([1488,619,1901,669],'#ff2a00','#0a3cf0');
heat([1488,674,1901,994],hRows,purpleRed,{genes:hGenes,border:'#555'});

/* text */
[['a',28,35],['b',499,35],['c',995,35],['d',1426.5,35],['e',34,545],['f',492,545],['g',930,545],['h',1439,545]].forEach(p=>panelLetter(...p));
T('Fresh',135.5,40,20.5);T('Cryo (-80ºC)',277.5,40,20.5);
disc(92,40,21,'#ff0000','#222');disc(199,40,21,'#2e7d4f','#1a2a9a');
T('slope=35.19',173.5,103,24,{c:'#f00'});T('slope=31.43',173.5,135,24,{c:'#00f'});
T('slope=0.0074',653.6,104,24,{c:'#f00'});T('slope=0.0102',653.6,135,24,{c:'#00f'});
T('# Unique transcripts',268,463,26);T('# Sequencing reads',16.5,242.5,26,{rot:1});
T('# Sequencing reads',761,467,26);T('# Detected genes',507,242,26,{rot:1});
T('tSNE 1',1225,454,25);T('tSNE 2',1038.5,225,25.5,{rot:1});
T('Mean expression (Fresh, log10)',1718,461.5,26);T('Mean expression (Cryo, log10)',1499.5,241.5,26,{rot:1});
T('r<sup>2</sup>=0.93',1628,111,24);
grad(340,547,89,19.5,'#1f5a34,#6d9a6d 25%,#fff 50%,#fdc590 75%,#ff8a1f');T('Low',357,576,18.5);T('High',408.6,576,18.5);
T('tSNE 1',697,1036,25);T('tSNE 2',487,789.6,24,{rot:1});
T('Fresh',897,659.5,20.5);T('Cryo',893,693.5,20.5);T('Cluster 1',912.5,751,20.5);T('Cluster 2',912.5,785,20.5);
disc(853,659.5,13,'#000');disc(854,751,13,'#000');disc(854,785,13,'#ff2a10');
document.getElementById('ov').insertAdjacentHTML('beforeend','<polygon points="853,685 845,701 861,701" fill="none" stroke="#000" stroke-width="1.2"/>');
grad(1273,522,89,20,'#2a10e0,#9a85f5 25%,#fff 50%,#fbbda5 75%,#f52010');T('Low',1290,554.6,18.5);T('High',1342,554.6,18.5);
arrow(971.7,1165.7,1008);arrow(1165.7,1375,1008);T('Ribosomal low',1075.3,1035,23.5);T('Ribosomal high',1272.7,1035,23.5);
grad(1801,517,88,20.5,'#2a10e0,#9a85f5 25%,#fff 50%,#fbbda5 75%,#f52010');T('Low',1817.7,549.8,18.5);T('High',1869.3,549.8,18.5);
arrow(1489.3,1730,1008);arrow(1730,1775.3,1008);arrow(1775.3,1902.7,1008);
T('G2/M',1599.3,1035,23.5);T('repressed',1599.3,1064,23.5);T('G2/M',1752.7,1035,23.5);T('active',1752.7,1064,23.5);T('G2/M',1845,1035,23.5);T('repressed',1845,1064,23.5);
</script></body></html>
